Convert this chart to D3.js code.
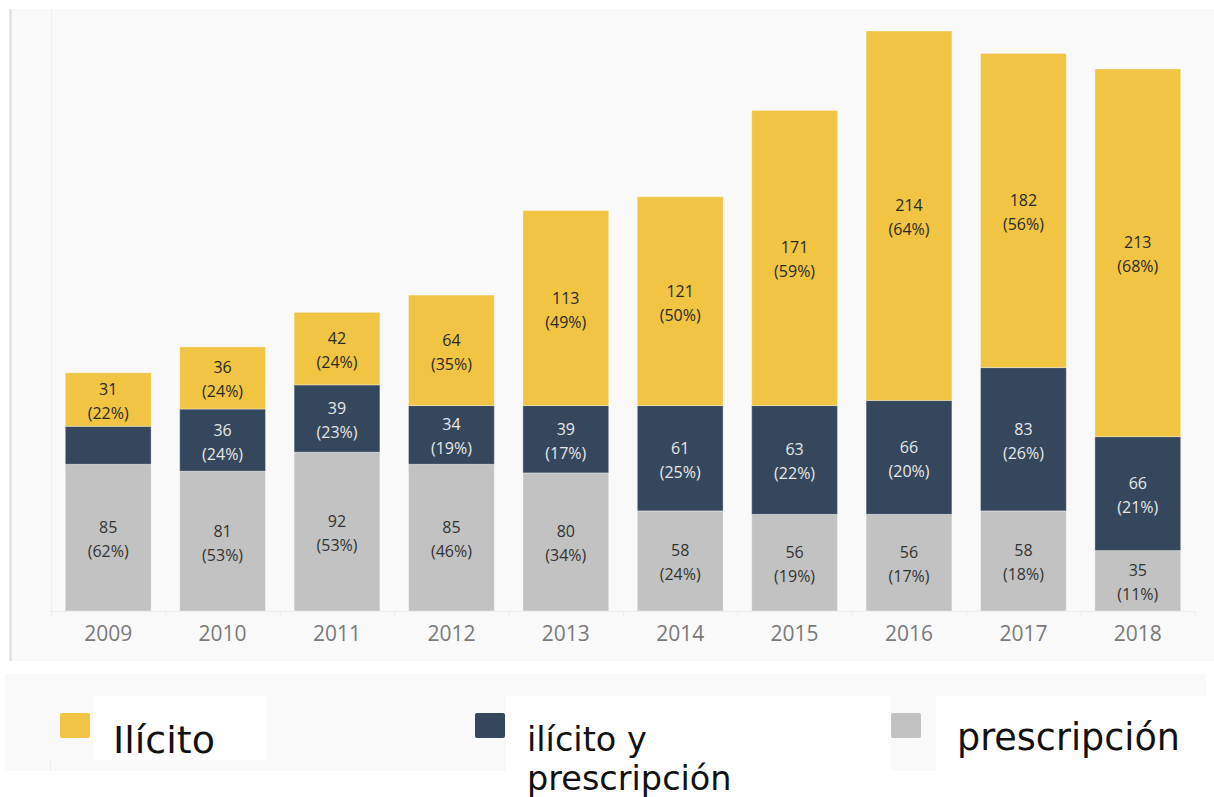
<!DOCTYPE html>
<html>
<head>
<meta charset="utf-8">
<script src="https://cdn.jsdelivr.net/npm/d3@7"></script>
<style>
  body { margin: 0; background: #ffffff; }
  svg { display: block; }
</style>
</head>
<body>
<div id="svgcontainer"></div>
<script>
// data
const years = ['2009', '2010', '2011', '2012', '2013', '2014', '2015', '2016', '2017', '2018']
const prescripcion = [85, 81, 92, 85, 80, 58, 56, 56, 58, 35]
const ilicitoPresc = [22, 36, 39, 34, 39, 61, 63, 66, 83, 66]
const ilicito = [31, 36, 42, 64, 113, 121, 171, 214, 182, 213]

const seriesKeys = ['prescripcion', 'ilicitoPresc', 'ilicito']
const seriesColors = { prescripcion: '#c2c2c2', ilicitoPresc: '#34475c', ilicito: '#f1c443' }
const labelColors = { prescripcion: '#333333', ilicitoPresc: '#e8e8e8', ilicito: '#2a2a2a' }

const width = 1214, height = 797

const svg = d3.select('#svgcontainer')
    .append('svg')
    .attr('width', width)
    .attr('height', height)

// chart panel
svg.append('rect')
    .attr('x', 10).attr('y', 9)
    .attr('width', width - 10).attr('height', 652)
    .attr('fill', '#f9f9f9')
svg.append('line')
    .attr('x1', 10.5).attr('x2', 10.5).attr('y1', 9).attr('y2', 661)
    .attr('stroke', '#dcdcdc').attr('stroke-width', 2)

const rows = years.map((y, i) => ({
    year: y,
    prescripcion: prescripcion[i],
    ilicitoPresc: ilicitoPresc[i],
    ilicito: ilicito[i]
}))
const totals = rows.map(r => r.prescripcion + r.ilicitoPresc + r.ilicito)

const xScale = d3.scaleBand().domain(years).range([51, 1195]).paddingInner(0.25).paddingOuter(0.125)
const yScale = d3.scaleLinear().domain([0, d3.max(totals)]).range([611, 31])

// light frame of the plot area
svg.append('line')
    .attr('x1', 51.5).attr('x2', 51.5).attr('y1', 9).attr('y2', 617)
    .attr('stroke', '#efefef')

// x axis: baseline, ticks between the categories, year labels
const xAxis = svg.append('g')
    .attr('transform', 'translate(0,611)')
    .call(d3.axisBottom(xScale).tickSize(0).tickPadding(15))
xAxis.select('.domain').attr('stroke', '#ececec')
xAxis.selectAll('text')
    .attr('font-family', '"Open Sans", sans-serif')
    .attr('font-size', 21)
    .attr('fill', '#7a7a7a')
xAxis.selectAll('.sep')
    .data(d3.range(years.length + 1))
    .join('line')
    .attr('class', 'sep')
    .attr('x1', i => 51.5 + i * xScale.step())
    .attr('x2', i => 51.5 + i * xScale.step())
    .attr('y1', 0).attr('y2', 6)
    .attr('stroke', '#ececec')

const stacked = d3.stack().keys(seriesKeys)(rows)

const layer = svg.selectAll('.layer')
    .data(stacked)
    .join('g')
    .attr('class', 'layer')
    .attr('fill', d => seriesColors[d.key])

layer.selectAll('rect')
    .data(d => d)
    .join('rect')
    .attr('x', d => xScale(d.data.year))
    .attr('y', d => yScale(d[1]))
    .attr('width', xScale.bandwidth())
    .attr('height', d => yScale(d[0]) - yScale(d[1]))
    .attr('stroke', 'rgba(255,255,255,0.35)')
    .attr('stroke-width', 1)

// value + percent labels in each segment (skipped where they would not fit)
stacked.forEach(s => {
    s.forEach((d, i) => {
        const h = yScale(d[0]) - yScale(d[1])
        if (h < 45) return
        const v = d[1] - d[0]
        const cx = xScale(d.data.year) + xScale.bandwidth() / 2
        const cy = (yScale(d[0]) + yScale(d[1])) / 2
        const g = svg.append('g')
            .attr('font-family', '"Open Sans", sans-serif')
            .attr('font-size', 16)
            .attr('text-anchor', 'middle')
            .attr('fill', labelColors[s.key])
        g.append('text')
            .attr('x', cx).attr('y', cy - 4.5)
            .attr('font-weight', 500)
            .text(v)
        g.append('text')
            .attr('x', cx).attr('y', cy + 19.5)
            .text('(' + Math.round(v / totals[i] * 100) + '%)')
    })
})

// legend panel
svg.append('rect')
    .attr('x', 5).attr('y', 674)
    .attr('width', 1201).attr('height', 97)
    .attr('fill', '#f9f9f9')
svg.append('line')
    .attr('x1', 50.5).attr('x2', 50.5).attr('y1', 760).attr('y2', 771)
    .attr('stroke', '#eeeeee')

const legendItems = [
    { key: 'ilicito', sw: 60, box: [93, 696, 174, 64], lines: ['Ilícito'], tx: 113, ty: 753, fs: 38 },
    { key: 'ilicitoPresc', sw: 475, box: [506, 696, 385, 75], lines: ['ilícito y', 'prescripción'], tx: 527, ty: 751, fs: 33.5 },
    { key: 'prescripcion', sw: 891, box: [936, 696, 278, 75], lines: ['prescripción'], tx: 957, ty: 750, fs: 36.5 }
]

legendItems.forEach(it => {
    svg.append('rect')
        .attr('x', it.sw).attr('y', 713)
        .attr('width', 30).attr('height', 25)
        .attr('rx', 2)
        .attr('fill', seriesColors[it.key])
    svg.append('rect')
        .attr('x', it.box[0]).attr('y', it.box[1])
        .attr('width', it.box[2]).attr('height', it.box[3])
        .attr('fill', '#ffffff')
    const t = svg.append('text')
        .attr('font-family', '"DejaVu Sans", Verdana, sans-serif')
        .attr('font-size', it.fs)
        .attr('fill', '#111111')
    it.lines.forEach((ln, j) => {
        t.append('tspan')
            .attr('x', it.tx)
            .attr('y', it.ty + j * 39)
            .text(ln)
    })
})
</script>
</body>
</html>
